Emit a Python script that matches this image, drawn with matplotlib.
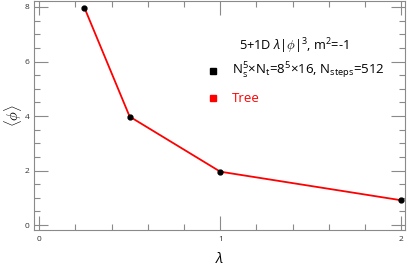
import matplotlib
matplotlib.use("Agg")
import matplotlib.pyplot as plt
from matplotlib.ticker import MultipleLocator

plt.rcParams['font.family'] = ['Open Sans', 'DejaVu Sans']
plt.rcParams['mathtext.fontset'] = 'custom'
plt.rcParams['mathtext.rm'] = 'Open Sans'
plt.rcParams['mathtext.it'] = 'Open Sans:italic'
plt.rcParams['mathtext.bf'] = 'Open Sans:bold'

lam = [0.25, 0.5, 1.0, 2.0]
phi = [7.98, 3.98, 1.96, 0.91]
tree_lam = [0.25, 0.5, 1.0, 2.0]
tree_phi = [7.98, 3.98, 1.96, 0.91]

title = r"5+1D $\mathit{\lambda}|\mathit{\phi}|^3$, m$^2$=-1"
label1 = r"N$_\mathrm{s}^5$×N$_\mathrm{t}$=8$^5$×16, N$_\mathrm{steps}$=512"
label2 = "Tree"

W, H = 407, 269
fig = plt.figure(figsize=(W/100, H/100), dpi=100)
ax = fig.add_axes([34/W, (H-230)/H, 371/W, 229/H])

ax.plot(tree_lam, tree_phi, color='#ff0000', lw=1.3, zorder=2)
ax.plot(lam, phi, 'o', color='black', ms=3.5, zorder=3)

ax.set_xlim(-0.028, 2.02)
ax.set_ylim(-0.18, 8.22)
ax.xaxis.set_major_locator(MultipleLocator(1))
ax.xaxis.set_minor_locator(MultipleLocator(0.2))
ax.yaxis.set_major_locator(MultipleLocator(2))
ax.yaxis.set_minor_locator(MultipleLocator(0.5))
gray = '#8a8a8a'
for s in ax.spines.values():
    s.set_color(gray)
    s.set_linewidth(0.8)
ax.tick_params(which='both', direction='in', top=True, right=True, color=gray,
               labelsize=6, labelcolor='#333333', width=0.8)
ax.tick_params(which='major', length=10, pad=3)
ax.tick_params(which='minor', length=4)
ax.tick_params(axis='x', pad=4)

ax.set_xlabel(r"$\mathit{\lambda}$", fontsize=10.5, labelpad=7)
ax.set_ylabel(r"$\langle\mathit{\phi}\rangle$", fontsize=10.5, labelpad=1)

def px(x, y):
    return ((x - 34) / 371, (230 - y) / 229)

ax.text(*px(294, 46), title, transform=ax.transAxes, ha='center', va='center',
        fontsize=9.2, color='black')
ax.plot(*px(213, 71), 's', color='black', ms=4.5, transform=ax.transAxes, clip_on=False)
ax.text(*px(232, 71), label1, transform=ax.transAxes, ha='left', va='center',
        fontsize=9.5, color='black')
ax.plot(*px(213, 98), 's', color='#ff0000', ms=4.5, transform=ax.transAxes, clip_on=False)
ax.text(*px(232, 98), label2, transform=ax.transAxes, ha='left', va='center',
        fontsize=9.5, color='#ff0000')

fig.savefig("out.png", dpi=100)
